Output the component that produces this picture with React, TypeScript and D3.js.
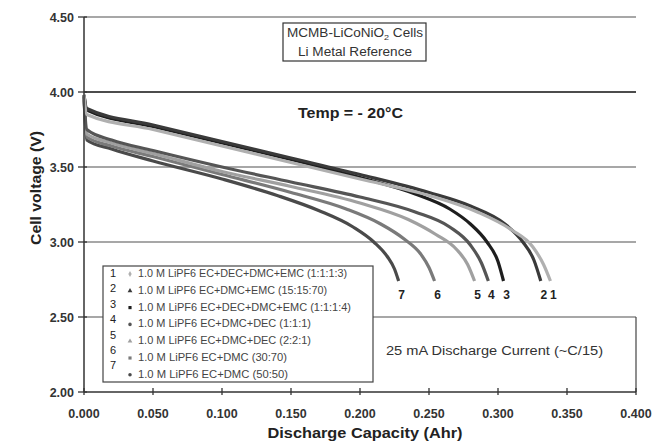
import React from "react";
import * as d3 from "d3";

const W = 654, H = 445;
const yTicks = [2.0, 2.5, 3.0, 3.5, 4.0, 4.5];
const xTicks = [0, 0.05, 0.1, 0.15, 0.2, 0.25, 0.3, 0.35, 0.4];

// [capacity (Ahr), voltage (V)]
const curve1: [number, number][] = [[0,3.98],[0.002,3.85],[0.05,3.75],[0.1,3.64],[0.15,3.53],[0.2,3.42],[0.25,3.31],[0.285,3.2],[0.31,3.08],[0.325,2.97],[0.333,2.85],[0.338,2.74]];
const curve2: [number, number][] = [[0,3.98],[0.002,3.89],[0.05,3.78],[0.1,3.67],[0.15,3.56],[0.2,3.45],[0.25,3.33],[0.28,3.24],[0.305,3.12],[0.318,3.0],[0.326,2.88],[0.331,2.74]];
const curve3: [number, number][] = [[0,3.98],[0.002,3.88],[0.05,3.77],[0.1,3.66],[0.15,3.55],[0.2,3.43],[0.24,3.32],[0.265,3.22],[0.28,3.12],[0.292,3.0],[0.3,2.87],[0.304,2.74]];
const curve4: [number, number][] = [[0,3.97],[0.002,3.75],[0.02,3.68],[0.05,3.61],[0.1,3.5],[0.15,3.4],[0.2,3.3],[0.24,3.2],[0.265,3.1],[0.28,2.98],[0.288,2.86],[0.293,2.74]];
const curve5: [number, number][] = [[0,3.97],[0.002,3.72],[0.02,3.66],[0.05,3.59],[0.1,3.47],[0.15,3.37],[0.2,3.26],[0.235,3.15],[0.255,3.05],[0.27,2.95],[0.278,2.85],[0.283,2.74]];
const curve6: [number, number][] = [[0,3.97],[0.002,3.7],[0.02,3.64],[0.05,3.57],[0.1,3.45],[0.15,3.33],[0.19,3.22],[0.215,3.12],[0.232,3.02],[0.244,2.92],[0.25,2.83],[0.254,2.74]];
const curve7: [number, number][] = [[0,3.97],[0.002,3.68],[0.02,3.62],[0.05,3.54],[0.1,3.42],[0.14,3.31],[0.17,3.21],[0.195,3.1],[0.21,3.0],[0.22,2.9],[0.225,2.82],[0.228,2.74]];

const seriesIds = ["1", "2", "3", "4", "5", "6", "7"];
const seriesData = [curve1, curve2, curve3, curve4, curve5, curve6, curve7];
const seriesColors = ["#b0b0b0", "#3a3a3a", "#1e1e1e", "#555555", "#a0a0a0", "#7a7a7a", "#4a4a4a"];
const legendLabels = [
  "1.0 M LiPF6 EC+DEC+DMC+EMC (1:1:1:3)",
  "1.0 M LiPF6 EC+DMC+EMC (15:15:70)",
  "1.0 M LiPF6 EC+DEC+DMC+EMC  (1:1:1:4)",
  "1.0 M LiPF6  EC+DMC+DEC (1:1:1)",
  "1.0 M LiPF6  EC+DMC+DEC (2:2:1)",
  "1.0 M LiPF6  EC+DMC   (30:70)",
  "1.0 M LiPF6  EC+DMC   (50:50)",
];
const legendWidths = [209, 189, 213, 173, 173, 149, 150];
const legendSymbols = [d3.symbolDiamond, d3.symbolTriangle, d3.symbolSquare, d3.symbolCircle, d3.symbolTriangle, d3.symbolSquare, d3.symbolCircle];

export default function App() {
  const x = d3.scaleLinear().domain([0, 0.4]).range([84, 636]);
  const y = d3.scaleLinear().domain([2, 4.5]).range([392, 17]);
  const line = d3.line<[number, number]>().x(d => x(d[0])).y(d => y(d[1])).curve(d3.curveMonotoneX);
  const font = "Arial, 'Liberation Sans', sans-serif";

  return (
    <svg width={W} height={H} style={{ position: "absolute", left: 0, top: 0, background: "#fff" }} fontFamily={font}>
      {/* gridlines */}
      {yTicks.filter(t => t > 2).map(t => (
        <line key={"g" + t} x1={x(0)} x2={x(0.4)} y1={y(t)} y2={y(t)}
          stroke={t === 4 ? "#111" : "#8a8a8a"} strokeWidth={t === 4 ? 1.3 : 1.6} />
      ))}
      {/* MCMB box */}
      <rect x={283} y={23} width={143} height={38} fill="#fff" stroke="#333" strokeWidth={1.2} />
      <text x={287} y={37} fontSize={12} fill="#333" textLength={136} lengthAdjust="spacingAndGlyphs">
        MCMB-LiCoNiO<tspan fontSize={8} dy={3}>2</tspan><tspan dy={-3}> Cells</tspan>
      </text>
      <text x={298} y={56} fontSize={12} fill="#333" textLength={114} lengthAdjust="spacingAndGlyphs">Li Metal Reference</text>
      <text x={298} y={118} fontSize={14} fontWeight="bold" fill="#222" textLength={105} lengthAdjust="spacingAndGlyphs">Temp = - 20°C</text>

      {/* curves */}
      {seriesData.map((d, i) => (
        <path key={"c" + i} d={line(d) || ""} fill="none" stroke={seriesColors[i]} strokeWidth={3.2} strokeLinejoin="round" />
      )).reverse()}

      {/* end labels */}
      {seriesData.map((d, i) => {
        const last = d[d.length - 1];
        return (
          <text key={"e" + i} x={x(last[0]) + 3} y={y(last[1]) + 18} textAnchor="middle" fontSize={12} fontWeight="bold" fill="#222">{seriesIds[i]}</text>
        );
      })}

      {/* legend */}
      <rect x={103} y={266} width={270} height={116} fill="#fff" stroke="#444" strokeWidth={1.2} />
      {legendLabels.map((lab, i) => {
        const rowY = 273 + i * 16.8;
        const numY = 273 - i * 1.4 + i * 16.8;
        return (
          <g key={"l" + i}>
            <text x={113} y={numY + 4} textAnchor="middle" fontSize={11} fill="#222">{seriesIds[i]}</text>
            <path d={d3.symbol().type(legendSymbols[i]).size(10)() || ""} transform={`translate(130,${rowY + 1})`} fill={seriesColors[i]} />
            <text x={138} y={rowY + 4} fontSize={10} fill="#444" textLength={legendWidths[i]} lengthAdjust="spacingAndGlyphs">{lab}</text>
          </g>
        );
      })}

      {/* bottom-right note */}
      <line x1={636} x2={636} y1={y(2.5)} y2={y(2)} stroke="#444" strokeWidth={1.2} />
      <text x={386} y={355} fontSize={12} fill="#333" textLength={217} lengthAdjust="spacingAndGlyphs">25 mA Discharge Current  (~C/15)</text>

      {/* axes */}
      <line x1={x(0)} x2={x(0)} y1={y(4.5)} y2={y(2)} stroke="#333" strokeWidth={1.5} />
      <line x1={x(0)} x2={x(0.4)} y1={y(2)} y2={y(2)} stroke="#333" strokeWidth={1.5} />
      {yTicks.map(t => (
        <g key={"yt" + t}>
          <line x1={x(0) - 6} x2={x(0) + 3} y1={y(t)} y2={y(t)} stroke="#333" strokeWidth={1.3} />
          <text x={74} y={y(t) + 4.5} textAnchor="end" fontSize={12.5} fontWeight="bold" fill="#333">{t.toFixed(2)}</text>
        </g>
      ))}
      {xTicks.map(t => (
        <g key={"xt" + t}>
          <line x1={x(t)} x2={x(t)} y1={y(2) - 4} y2={y(2) + 3} stroke="#333" strokeWidth={1.3} />
          <text x={x(t)} y={418} textAnchor="middle" fontSize={12.5} fontWeight="bold" fill="#333">{t.toFixed(3)}</text>
        </g>
      ))}
      <text x={365} y={438} textAnchor="middle" fontSize={15} fontWeight="bold" fill="#222" textLength={195} lengthAdjust="spacingAndGlyphs">Discharge Capacity (Ahr)</text>
      <text transform={`translate(41,188) rotate(-90)`} textAnchor="middle" fontSize={15} fontWeight="bold" fill="#222" textLength={114} lengthAdjust="spacingAndGlyphs">Cell voltage (V)</text>
    </svg>
  );
}
